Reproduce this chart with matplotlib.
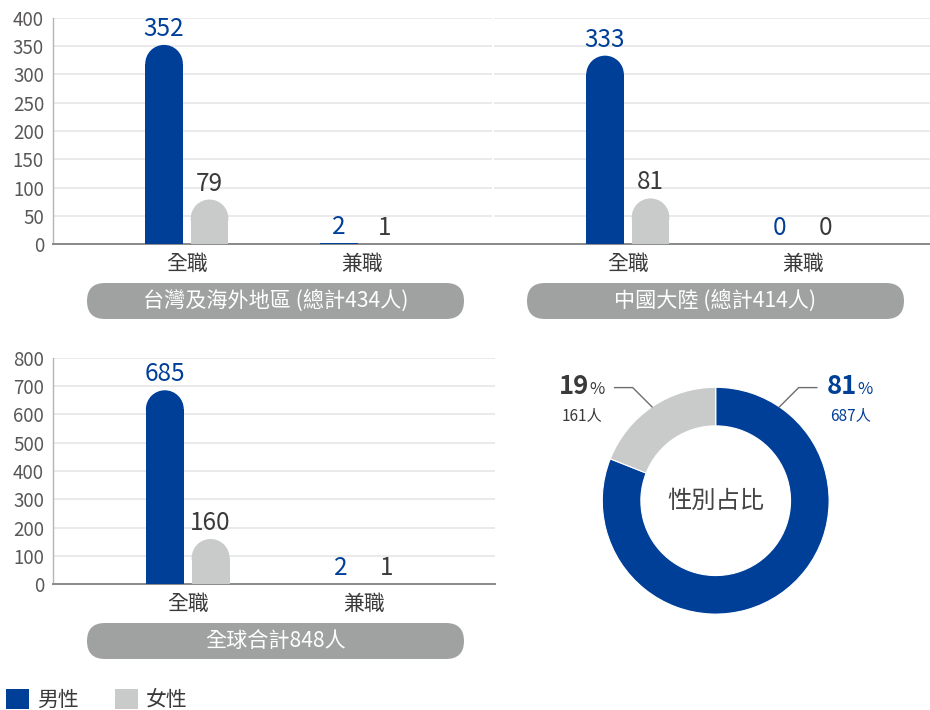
import matplotlib
matplotlib.use('Agg')
import matplotlib.pyplot as plt
from matplotlib.patches import Rectangle, Ellipse, FancyBboxPatch, Patch
import numpy as np

plt.rcParams['font.family'] = ['Noto Sans CJK TC', 'DejaVu Sans']

# ---------------- data ----------------
categories = ['全職', '兼職']
tw_male = [352, 2]
tw_female = [79, 1]
cn_male = [333, 0]
cn_female = [81, 0]
all_male = [685, 2]
all_female = [160, 1]
tw_title = '台灣及海外地區 (總計434人)'
cn_title = '中國大陸 (總計414人)'
all_title = '全球合計848人'
top_ticks = [0, 50, 100, 150, 200, 250, 300, 350, 400]
bottom_ticks = [0, 100, 200, 300, 400, 500, 600, 700, 800]
gender_labels = ['男性', '女性']
gender_totals = [687, 161]
pie_center_label = '性別占比'

# ---------------- style ----------------
BLUE = '#003f98'
GRAY = '#c9caca'
PILL = '#a0a1a1'
TEXT = '#3a3a3a'
TICK = '#595757'

W, H = 930, 710
fig = plt.figure(figsize=(W / 100, H / 100), dpi=100)


def px_axes(x0, y0, x1, y1):
    return fig.add_axes([x0 / W, 1 - y1 / H, (x1 - x0) / W, (y1 - y0) / H])


BAR_W = 0.215
OFF = 0.13
XLIM = (-0.765, 1.745)


def rounded_bar(ax, x, v, color):
    x0, x1 = ax.get_xlim()
    y0, y1 = ax.get_ylim()
    ppx = ax.bbox.width / (x1 - x0)
    ppy = ax.bbox.height / (y1 - y0)
    r_y = (BAR_W / 2) * ppx / ppy
    if v <= 0:
        return
    if v <= r_y:
        ax.add_patch(Rectangle((x - BAR_W / 2, 0), BAR_W, v, facecolor=color,
                               edgecolor='none', zorder=3))
    else:
        ax.add_patch(Rectangle((x - BAR_W / 2, 0), BAR_W, v - r_y, facecolor=color,
                               edgecolor='none', zorder=3))
        ax.add_patch(Ellipse((x, v - r_y), BAR_W, 2 * r_y, facecolor=color,
                             edgecolor='none', zorder=3))


def bar_panel(ax, male, female, ticks, show_y=True):
    ax.set_xlim(*XLIM)
    ax.set_ylim(ticks[0], ticks[-1])
    ax.set_yticks(ticks)
    ax.set_xticks(range(len(categories)))
    ax.set_xticklabels(categories)
    ax.tick_params(axis='y', length=0, pad=6.5, labelsize=13.5, labelcolor=TICK,
                   labelleft=show_y)
    ax.tick_params(axis='x', length=0, pad=6.5, labelsize=15, labelcolor=TEXT)
    for s in ['top', 'right']:
        ax.spines[s].set_visible(False)
    ax.spines['left'].set_visible(show_y)
    ax.spines['left'].set_color('#b5b5b5')
    ax.spines['left'].set_linewidth(1.0)
    ax.spines['bottom'].set_color('#8a8a8a')
    ax.spines['bottom'].set_linewidth(1.4)
    ax.yaxis.grid(True, color='#e6e6e6', linewidth=1.2)
    ax.set_axisbelow(True)
    for i in range(len(categories)):
        rounded_bar(ax, i - OFF, male[i], BLUE)
        rounded_bar(ax, i + OFF, female[i], GRAY)
        ax.annotate(str(male[i]), (i - OFF, male[i]), xytext=(0, 6.5),
                    textcoords='offset points', ha='center', va='baseline',
                    fontsize=17.5, color=BLUE, zorder=4)
        ax.annotate(str(female[i]), (i + OFF, female[i]), xytext=(0, 6.5),
                    textcoords='offset points', ha='center', va='baseline',
                    fontsize=17.5, color=TEXT, zorder=4)


def pill(x0, x1, y0, y1, text):
    h = (y1 - y0) / 100
    p = FancyBboxPatch((x0 / 100, (H - y1) / 100), (x1 - x0) / 100, h,
                       boxstyle=f"round,pad=0,rounding_size={h / 2}",
                       transform=fig.dpi_scale_trans, facecolor=PILL,
                       edgecolor='none')
    fig.add_artist(p)
    fig.text((x0 + x1) / 2 / W, 1 - (y0 + y1) / 2 / H, text, ha='center',
             va='center', color='white', fontsize=15.2)


ax_tw = px_axes(53, 17.7, 492, 244.3)
bar_panel(ax_tw, tw_male, tw_female, top_ticks, True)
ax_cn = px_axes(494, 17.7, 933, 244.3)
bar_panel(ax_cn, cn_male, cn_female, top_ticks, False)
ax_all = px_axes(53, 357.7, 495, 584.3)
bar_panel(ax_all, all_male, all_female, bottom_ticks, True)

pill(87, 464, 283, 319, tw_title)
pill(527, 904, 283, 319, cn_title)
pill(87, 464, 623, 659, all_title)

# ---------------- donut ----------------
cx, cy, R = 715.7, 500.7, 113.4
size = 2.4 * R
axp = px_axes(cx - size / 2, cy - size / 2, cx + size / 2, cy + size / 2)
axp.pie(gender_totals, colors=[BLUE, GRAY], startangle=90, counterclock=False,
        radius=1, wedgeprops=dict(width=0.34, edgecolor='white', linewidth=0.8))
axp.set_xlim(-1.2, 1.2)
axp.set_ylim(-1.2, 1.2)
axp.set_aspect('equal')
axp.axis('off')
axp.text(0, 0, pie_center_label, ha='center', va='center', fontsize=17.5,
         color='#444444')

total = sum(gender_totals)
frac_f = gender_totals[1] / total
frac_m = gender_totals[0] / total
ang_f = np.deg2rad(90 + frac_f * 360 / 2)
ang_m = np.pi - ang_f
diag, horiz, gap = 0.17, 0.16, 0.09

fig.canvas.draw()
renderer = fig.canvas.get_renderer()
inv = axp.transData.inverted()

# male (right)
sx, sy = 1.0 * np.cos(ang_m), 1.0 * np.sin(ang_m)
ex, ey = sx + diag, sy + diag
hx = ex + horiz
axp.plot([sx, ex, hx], [sy, ey, ey], color='#6e6e6e', lw=1, clip_on=False)
t = axp.text(hx + gap, ey - 0.06, f"{round(frac_m * 100)}", ha='left',
             va='baseline', fontsize=18.5, fontweight='bold', color=BLUE)
bb = t.get_window_extent(renderer)
xr = inv.transform((bb.x1, bb.y0))[0]
axp.text(xr + 0.003, ey - 0.06, '%', ha='left', va='baseline', fontsize=12,
         color=BLUE)
axp.text(hx + gap + 0.03, ey - 0.29, f"{gender_totals[0]}人", ha='left',
         va='baseline', fontsize=11, color=BLUE)

# female (left)
sx, sy = 1.0 * np.cos(ang_f), 1.0 * np.sin(ang_f)
ex, ey = sx - diag, sy + diag
hx = ex - horiz
axp.plot([sx, ex, hx], [sy, ey, ey], color='#6e6e6e', lw=1, clip_on=False)
tp = axp.text(hx - gap, ey - 0.06, '%', ha='right', va='baseline', fontsize=12,
              color=TEXT)
bb = tp.get_window_extent(renderer)
xl = inv.transform((bb.x0, bb.y0))[0]
axp.text(xl - 0.003, ey - 0.06, f"{round(frac_f * 100)}", ha='right',
         va='baseline', fontsize=18.5, fontweight='bold', color=TEXT)
axp.text(hx - gap - 0.02, ey - 0.29, f"{gender_totals[1]}人", ha='right',
         va='baseline', fontsize=11, color=TEXT)

# ---------------- legend ----------------
fig.legend(handles=[Patch(facecolor=BLUE, edgecolor='none'),
                    Patch(facecolor=GRAY, edgecolor='none')],
           labels=gender_labels, loc='upper left',
           bbox_to_anchor=(6 / W, 1 - 689 / H), ncol=2, frameon=False,
           fontsize=15, handlelength=1.1, handleheight=1.1,
           handletextpad=0.38, columnspacing=1.75, borderpad=0,
           borderaxespad=0, labelcolor=TEXT)

fig.savefig('out.png', dpi=100)
